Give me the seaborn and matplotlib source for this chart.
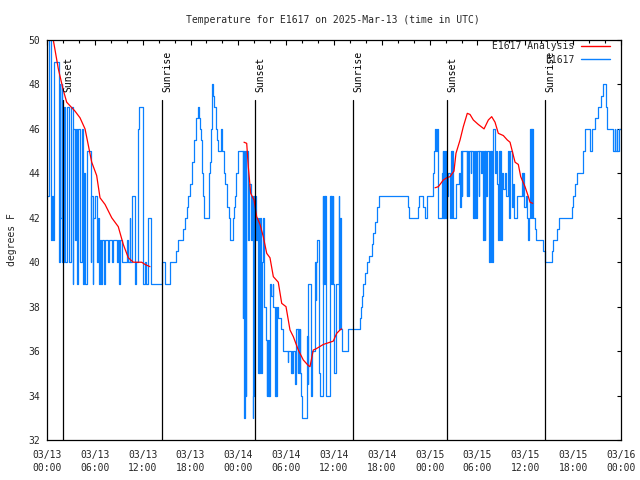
import pandas as pd
import matplotlib
matplotlib.use('Agg')
import matplotlib.pyplot as plt
import matplotlib.transforms as mtransforms
from matplotlib.lines import Line2D
from matplotlib.ticker import MultipleLocator
import seaborn as sns

# hours after 2025-03-13 00:00 UTC, temperature in deg F
# station readings, drawn as steps (three chunks)
blue_hours_1 = [0.0, 0.19, 0.44, 0.63, 0.75, 0.92, 1.47, 1.57, 1.69, 1.82,
                1.94, 2.07, 2.26, 2.51, 2.76, 2.95, 3.2, 3.32, 3.45, 3.58,
                3.76, 3.89, 4.2, 4.33, 4.52, 4.64, 4.77, 5.02, 5.48, 5.58,
                5.71, 5.83, 6.02, 6.27, 6.4, 6.52, 6.65, 6.77, 6.9, 7.15,
                7.28, 7.65, 7.78, 8.15, 8.28, 8.78, 8.91, 9.03, 9.16, 9.41,
                10.04, 10.16, 10.35, 10.47, 10.62, 11.04, 11.16, 11.45, 11.6, 12.0,
                12.29, 12.42, 12.67, 13.01, 14.39, 14.8, 15.43,
                16.18, 16.43, 17.06, 17.25, 17.5, 17.69, 17.94, 18.13, 18.25, 18.38,
                18.5, 18.63, 18.75, 18.88, 19.07, 19.19, 19.26, 19.38, 19.44, 19.57,
                19.73, 20.32, 20.38, 20.45, 20.51, 20.57, 20.64, 20.74, 20.86, 21.01,
                21.2, 21.32, 21.49, 21.79, 21.95, 22.14, 22.26, 22.39, 22.52, 22.64,
                22.77, 22.95, 23.29, 23.4, 23.52, 23.65, 23.77, 23.9, 24.02]
blue_temps_1 = [43, 50, 41, 43, 41, 49, 40, 48, 42, 48,
                40, 47, 40, 47, 40, 47, 39, 46, 41, 46,
                39, 46, 40, 46, 39, 44, 39, 45, 40, 43,
                39, 42, 43, 40, 42, 39, 41, 39, 41, 39,
                41, 40, 41, 40, 41, 40, 41, 39, 41, 40,
                41, 40, 42, 40, 43, 39, 40, 46, 47, 39,
                40, 39, 42, 39, 40, 39, 40,
                40.5, 41, 41.5, 42, 42.5, 43, 43.5, 44, 44.5, 45,
                45.5, 46, 46.5, 47, 46.5, 46, 45.5, 45, 44, 43,
                42, 43, 44, 44.5, 45, 46, 47, 48, 47.5, 47,
                46, 45.5, 45, 46, 45, 44.5, 44, 43.5, 43, 42.5,
                42, 41, 42, 42.5, 43, 43.5, 44, 44.5, 45]

blue_hours_2 = [24.55, 24.62, 24.75, 24.84, 24.91, 25.0, 25.15, 25.34, 25.53, 25.68,
                25.78, 25.88, 26.0, 26.18, 26.3, 26.47, 26.56, 26.63, 26.72, 26.81,
                26.93, 27.1, 27.28, 27.41, 27.56, 27.63, 27.72, 27.81, 27.89, 27.97,
                28.16, 28.31, 28.39, 28.6, 28.68, 28.76, 28.85, 28.94, 29.35, 29.6,
                30.17, 30.29, 30.61, 30.7, 30.77, 30.9, 31.11, 31.23, 31.45, 31.52,
                31.61, 31.7, 31.77, 31.86, 31.95, 32.65, 32.7, 32.78, 33.08, 33.24,
                33.62, 33.69, 33.78, 33.91, 34.06, 34.25, 34.58, 34.66, 34.75, 34.83,
                34.91, 35.0, 35.5, 35.59, 35.66, 35.75, 35.84, 35.91, 36.0, 36.25,
                36.59, 36.67, 36.75, 36.84, 36.97, 37.8, 39.26, 39.39, 39.51, 39.7,
                39.89, 40.14, 40.39, 40.71, 40.89, 41.14, 41.4, 41.68, 45.25, 45.45,
                46.5, 46.7, 47.2, 47.42, 47.63]
blue_temps_2 = [37.5, 45, 33, 45, 34, 45, 41, 43.5, 41, 43,
                33, 34, 43, 41, 42, 35, 42, 35, 42, 35,
                40, 42, 38, 36.5, 34, 36.5, 34, 36.5, 34, 39,
                38.5, 39, 38, 34, 38, 34, 38, 37.5, 37, 36,
                35.5, 36, 35, 36, 35, 36, 34.5, 37, 35, 37,
                35, 37, 35, 34, 33, 36.7, 34.5, 39, 34, 36,
                40, 38.3, 40, 41, 35, 34, 43, 39, 43, 39,
                43, 34, 43, 39, 43, 39, 43, 39, 35, 39,
                43, 37, 42, 37, 36, 37, 37.5, 38, 38.5, 39,
                39.5, 40, 40.3, 40.8, 41.3, 41.8, 42.5, 43, 42.5, 42,
                42.5, 43, 42.5, 42, 43]

blue_hours_3 = [48.46, 48.58, 48.71, 48.83, 48.92, 49.01, 49.09, 49.49, 49.64, 49.7,
                49.76, 49.84, 49.93, 50.01, 50.21, 50.34, 50.55, 50.68, 50.77, 50.84,
                50.93, 51.31, 51.62, 51.81, 51.93, 52.02, 52.1, 52.65, 52.72, 52.81,
                52.9, 53.13, 53.21, 53.44, 53.53, 53.6, 53.69, 53.78, 53.9, 54.13,
                54.25, 54.44, 54.57, 54.73, 54.82, 54.9, 54.98, 55.07, 55.19, 55.48,
                55.57, 55.66, 55.73, 55.82, 55.91, 56.2, 56.32, 56.45, 56.61, 56.7,
                56.79, 56.86, 56.95, 57.04, 57.2, 57.39, 57.58, 57.83, 58.01, 58.12,
                58.29, 58.46, 58.64, 58.92, 59.55, 59.65, 59.75, 59.87, 60.09, 60.21,
                60.34, 60.46, 60.59, 60.65, 60.71, 60.78, 60.84, 60.93, 61.0, 61.22,
                61.4, 62.26, 62.47, 63.31, 63.43, 63.94, 64.26, 65.82, 66.02, 66.23,
                66.52, 67.27, 67.49, 68.11, 68.33, 68.74, 69.08, 69.45, 69.78, 70.12,
                70.29, 71.04, 71.19, 71.31, 71.44, 71.56, 71.69, 72.0]
blue_temps_3 = [44, 45, 46, 45, 46, 43, 42, 44, 45, 42,
                45, 42, 45, 42, 43, 44, 42, 45, 42, 45,
                42, 43.5, 44, 42.5, 45, 43, 45, 43, 45, 43,
                45, 44, 45, 42, 45, 42, 45, 42, 45, 43,
                45, 44, 45, 41, 45, 41, 45, 43, 45, 40,
                45, 40, 45, 40, 46, 44, 45, 43.5, 41, 45,
                41, 45, 41, 44, 43.3, 44, 43, 45, 42, 45,
                42.5, 43.5, 42, 43, 44, 43, 44, 42.5, 43, 42,
                41, 42, 46, 42, 46, 42, 46, 44, 42, 41.5,
                41, 40.5, 40, 40.5, 41, 41.5, 42, 42.5, 43, 43.5,
                44, 45, 46, 45, 46, 46.5, 47, 47.5, 48, 47,
                46, 45, 46, 45, 46, 45, 46, 46]

# analysis curve, three separate runs
red_hours_1 = [0.55, 0.79, 1.42, 2.04, 2.47, 3.51, 4.14, 4.77, 5.61, 6.23,
               6.65, 7.28, 8.12, 8.94, 9.57, 10.2, 10.83, 11.88, 12.29, 12.92]
red_temps_1 = [50.3, 50.0, 48.7, 47.75, 47.2, 46.8, 46.5, 46.0, 44.5, 43.9,
               42.9, 42.6, 42.0, 41.6, 40.8, 40.2, 40.0, 40.0, 39.9, 39.8]
red_hours_2 = [24.71, 25.05, 25.25, 25.55, 25.97, 26.3, 26.72, 27.13, 27.56, 27.97,
               28.39, 29.01, 29.44, 29.98, 30.48, 30.9, 31.52, 32.15, 32.78, 32.99,
               33.4, 33.74, 34.66, 35.5, 35.91, 36.34, 36.75, 36.97]
red_temps_2 = [45.4, 45.35, 44.3, 43.1, 42.8, 42.05, 41.7, 41.15, 40.4, 40.2,
               39.35, 39.1, 38.15, 38.0, 36.95, 36.65, 36.05, 35.6, 35.35, 35.3,
               36.05, 36.1, 36.3, 36.4, 36.45, 36.8, 36.95, 37.0]
red_hours_3 = [48.67, 49.09, 49.71, 50.14, 50.55, 51.05, 51.3, 51.81, 52.22, 52.72,
               53.06, 53.48, 54.1, 54.82, 55.36, 55.78, 56.2, 56.61, 57.24, 57.74,
               58.08, 58.71, 59.12, 59.42, 59.96, 60.38, 60.59, 60.93]
red_temps_3 = [43.35, 43.4, 43.7, 43.8, 43.85, 44.1, 44.9, 45.5, 46.1, 46.7,
               46.65, 46.4, 46.2, 46.0, 46.4, 46.55, 46.3, 45.8, 45.7, 45.5,
               45.4, 44.5, 44.4, 43.85, 43.4, 42.95, 42.7, 42.65]

sun_hours = [2.05, 14.47, 26.13, 38.43, 50.22, 62.51]
sun_labels = ['Sunset', 'Sunrise', 'Sunset', 'Sunrise', 'Sunset', 'Sunrise']

ytick_values = [32, 34, 36, 38, 40, 42, 44, 46, 48, 50]
xtick_hours = [0, 6, 12, 18, 24, 30, 36, 42, 48, 54, 60, 66, 72]
xtick_labels = ['03/13\n00:00', '03/13\n06:00', '03/13\n12:00', '03/13\n18:00',
                '03/14\n00:00', '03/14\n06:00', '03/14\n12:00', '03/14\n18:00',
                '03/15\n00:00', '03/15\n06:00', '03/15\n12:00', '03/15\n18:00',
                '03/16\n00:00']

BLUE = '#0a80ff'
RED = '#ff0000'
FS = 7

sns.set_theme(style='white')
plt.rcParams['font.family'] = ['DejaVu Sans Mono', 'DejaVu Sans']

blue = pd.DataFrame({
    'hour': blue_hours_1 + blue_hours_2 + blue_hours_3,
    'temp': blue_temps_1 + blue_temps_2 + blue_temps_3,
})
red = pd.concat([
    pd.DataFrame({'hour': red_hours_1, 'temp': red_temps_1, 'run': 1}),
    pd.DataFrame({'hour': red_hours_2, 'temp': red_temps_2, 'run': 2}),
    pd.DataFrame({'hour': red_hours_3, 'temp': red_temps_3, 'run': 3}),
])

fig = plt.figure(figsize=(6.4, 4.8), dpi=100)
ax = fig.add_axes([47 / 640, 40 / 480, 574 / 640, 400 / 480])

sns.lineplot(data=blue, x='hour', y='temp', estimator=None, sort=False,
             drawstyle='steps-post', color=BLUE, linewidth=0.9, ax=ax)
sns.lineplot(data=red, x='hour', y='temp', units='run', estimator=None,
             sort=False, color=RED, linewidth=0.9, ax=ax)

ax.set_xlim(0, 72)
ax.set_ylim(32, 50)

# sunrise / sunset markers
trans = mtransforms.blended_transform_factory(ax.transData, ax.transAxes)
for h, lab in zip(sun_hours, sun_labels):
    ax.axvline(h, ymin=0, ymax=0.85, color='black', linewidth=0.9)
    ax.text(h, 0.87, lab, transform=trans, rotation=90, ha='left',
            va='bottom', fontsize=FS, color='black')

ax.set_xticks(xtick_hours, xtick_labels, linespacing=1.35, fontsize=FS)
ax.xaxis.set_minor_locator(MultipleLocator(2))
ax.set_yticks(ytick_values, [str(v) for v in ytick_values], fontsize=FS)
ax.tick_params(which='both', direction='in', top=True, right=True,
               color='black', width=0.8)
ax.tick_params(axis='x', which='major', length=3.4, pad=7)
ax.tick_params(axis='x', which='minor', length=2.4)
ax.tick_params(axis='y', which='major', length=3.2, pad=5)
ax.set_xlabel('')
ax.set_ylabel('')
for sp in ax.spines.values():
    sp.set_color('black')
    sp.set_linewidth(0.9)

handles = [Line2D([], [], color=RED, linewidth=1.0),
           Line2D([], [], color=BLUE, linewidth=1.0)]
ax.legend(handles, ['E1617 Analysis', 'E1617'], loc='upper right',
          bbox_to_anchor=(0.981, 0.997), frameon=False, markerfirst=False,
          handlelength=3.0, handletextpad=0.7, labelspacing=0.35,
          borderpad=0, borderaxespad=0, fontsize=FS)

fig.text(333 / 640, 1 - 20 / 480, 'Temperature for E1617 on 2025-Mar-13 (time in UTC)',
         ha='center', va='center', fontsize=FS)
fig.text(12 / 640, 0.5, 'degrees F', rotation=90, ha='center', va='center',
         fontsize=FS)

fig.savefig('out.png', dpi=100)
